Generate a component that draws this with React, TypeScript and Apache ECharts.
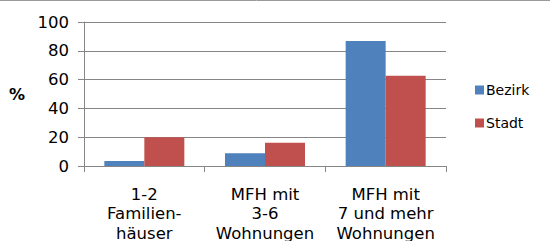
import React, { useEffect, useRef } from "react";
import * as echarts from "echarts";

const categories = ["1-2\nFamilien-\nhäuser", "MFH mit\n3-6\nWohnungen", "MFH mit\n7 und mehr\nWohnungen"];
const bezirk = [3.5, 8.8, 86.8];
const stadt = [20, 16.2, 62.7];
const seriesNames = ["Bezirk", "Stadt"];

export default function App() {
  const ref = useRef<HTMLDivElement>(null);
  useEffect(() => {
    const chart = echarts.init(ref.current!, null, { renderer: "svg" });
    const font = "'DejaVu Sans', sans-serif";
    chart.setOption({
      animation: false,
      backgroundColor: "#ffffff",
      textStyle: { fontFamily: font },
      graphic: [
        { type: "line", shape: { x1: 0, y1: 0.5, x2: 550, y2: 0.5 }, style: { stroke: "#9a9a9a", lineWidth: 1 } },
      ],
      grid: { left: 84, right: 104, top: 22, bottom: 75, outerBoundsMode: "none", containLabel: false },
      legend: {
        orient: "vertical",
        left: 470,
        top: 78,
        itemWidth: 9,
        itemHeight: 9,
        itemGap: 19,
        icon: "rect",
        data: seriesNames,
        textStyle: { fontSize: 14, color: "#000", fontFamily: font, padding: [0, 0, 0, -3] },
      },
      xAxis: {
        type: "category",
        data: categories,
        axisLine: { lineStyle: { color: "#868686" } },
        axisTick: { show: true, length: 6, lineStyle: { color: "#868686" } },
        axisLabel: { color: "#000", fontSize: 16.5, lineHeight: 19.5, margin: 18.5, fontFamily: font, interval: 0 },
      },
      yAxis: {
        type: "value",
        min: 0,
        max: 100,
        interval: 20,
        name: "%",
        nameLocation: "middle",
        nameRotate: 0,
        nameGap: 59,
        nameTextStyle: { fontSize: 16, fontWeight: "bold", color: "#000", fontFamily: font },
        axisLine: { show: true, lineStyle: { color: "#868686" } },
        axisTick: { show: true, length: 6, lineStyle: { color: "#868686" } },
        axisLabel: { color: "#000", fontSize: 16.5, margin: 15, fontFamily: font },
        splitLine: { lineStyle: { color: "#868686" } },
      },
      series: [
        { name: seriesNames[0], type: "bar", data: bezirk, barWidth: 40, barGap: "0%", itemStyle: { color: "#4F81BD" } },
        { name: seriesNames[1], type: "bar", data: stadt, barWidth: 40, barGap: "0%", itemStyle: { color: "#C0504D" } },
      ],
    });
    return () => chart.dispose();
  }, []);
  return <div ref={ref} style={{ position: "absolute", left: 0, top: 0, width: 550, height: 241 }} />;
}
